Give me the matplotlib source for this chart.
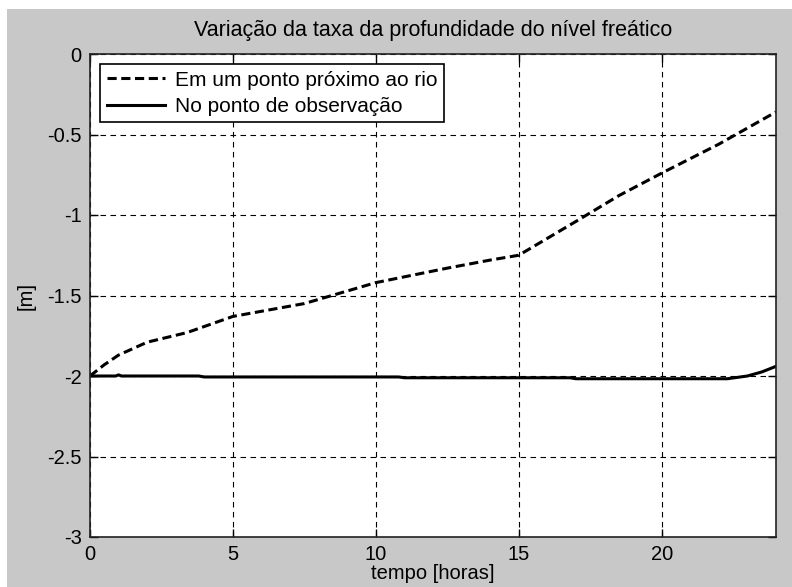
import matplotlib.pyplot as plt
from matplotlib.patches import Rectangle

# Dados
t_rio = [0, 0.5, 1, 2, 3.4, 5, 7.5, 10, 12.5, 14, 15, 17, 18.5, 20, 22, 24]
h_rio = [-2.0, -1.93, -1.87, -1.79, -1.73, -1.63, -1.55, -1.42, -1.33, -1.28, -1.25,
         -1.04, -0.88, -0.74, -0.56, -0.36]

t_obs = [0, 0.9, 1.0, 1.1, 3.8, 4.0, 10.8, 11.0, 16.8, 17.0, 22.3, 23.0, 23.5, 24.0]
h_obs = [-2.0, -2.0, -1.993, -2.0, -2.0, -2.006, -2.006, -2.011, -2.011, -2.017,
         -2.017, -2.0, -1.975, -1.94]

xticks = [0, 5, 10, 15, 20]
yticks = [0, -0.5, -1, -1.5, -2, -2.5, -3]
ylabels = ['0', '-0.5', '-1', '-1.5', '-2', '-2.5', '-3']

plt.rcParams['font.family'] = ['Liberation Sans', 'DejaVu Sans']
fs = 14.5

fig = plt.figure(figsize=(7.92, 5.87), dpi=100, facecolor='white')
# fundo cinza estilo MATLAB
bg = Rectangle((7 / 792, 0), 1, 1 - 9 / 587, transform=fig.transFigure,
               facecolor='#c8c8c8', edgecolor='none', zorder=-10)
fig.patches.append(bg)

ax = fig.add_axes([90 / 792, 1 - 537 / 587, 686 / 792, 483 / 587])
ax.plot(t_rio, h_rio, color='black', linestyle=(0, (3, 1.5)), linewidth=2.2,
        label='Em um ponto próximo ao rio')
ax.plot(t_obs, h_obs, color='black', linestyle='-', linewidth=2.2,
        label='No ponto de observação')

ax.set_xlim(0, 24)
ax.set_ylim(-3, 0)
ax.set_xticks(xticks)
ax.set_yticks(yticks)
ax.set_yticklabels(ylabels)
ax.grid(True, color='black', linestyle=(0, (5, 4)), linewidth=0.8)
ax.tick_params(direction='in', top=True, right=True, length=6, labelsize=fs,
               width=1, pad=6)
for s in ax.spines.values():
    s.set_linewidth(1.2)
    s.set_color('#222222')

ax.set_title('Variação da taxa da profundidade do nível freático', fontsize=15.5, pad=13)
ax.set_xlabel('tempo [horas]', fontsize=fs, labelpad=0)
ax.set_ylabel('[m]', fontsize=fs, labelpad=8)

leg = ax.legend(loc='upper left', fontsize=15, handlelength=2.8, fancybox=False,
                framealpha=1, edgecolor='black', borderaxespad=0.5,
                borderpad=0.3, labelspacing=0.35, handletextpad=0.5)
leg.get_frame().set_linewidth(1.2)

fig.savefig('out.png', dpi=100, facecolor=fig.get_facecolor())
